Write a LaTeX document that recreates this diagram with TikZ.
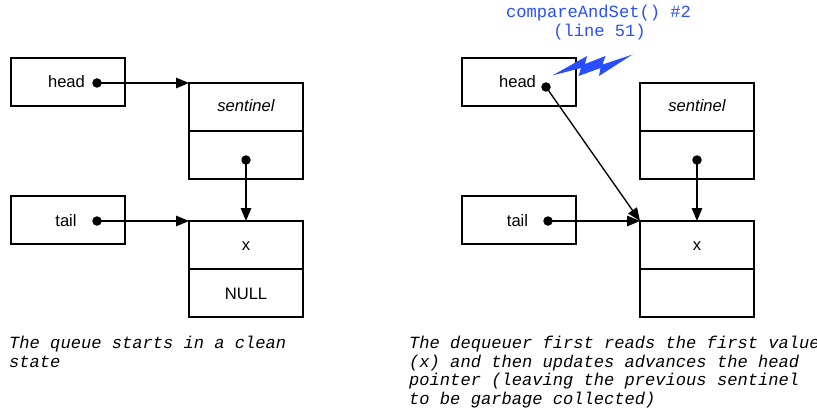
\documentclass[tikz,border=0pt]{standalone}
\usepackage{fontspec}
\setmainfont{Liberation Sans}
\newfontfamily\monofont{Liberation Mono}
\usetikzlibrary{arrows.meta}

\definecolor{casblue}{RGB}{40,78,255}

\tikzset{
  cell/.style={draw, line width=1.35pt, minimum width=114pt, minimum height=48pt,
               inner sep=0pt, outer sep=0pt},
  dot/.style={circle, fill, inner sep=0pt, minimum size=9.5pt},
  label/.style={anchor=base, inner sep=0pt, font=\fontsize{16.6}{18}\selectfont},
  ital/.style={label, font=\fontsize{16.6}{18}\selectfont\itshape},
  ptr/.style={line width=1.35pt, -{Triangle[length=13pt, width=10.5pt]}},
  caption/.style={anchor=base west, inner sep=0pt,
                  font=\monofont\fontsize{17.1}{18.5}\selectfont\itshape},
  note/.style={anchor=base, inner sep=0pt, text=casblue,
               font=\monofont\fontsize{17.1}{18.5}\selectfont}
}

\begin{document}
\begin{tikzpicture}[x=1pt, y=-1pt]
\useasboundingbox (0,0) rectangle (817,417);

% ---------- initial state ----------
\node[cell] (lhead) at (68,82) {};
\node[label] (lheadtxt) at (66.5,88) {head};
\node[dot] (lheaddot) at (97,83) {};

\node[cell] (ltail) at (68,220) {};
\node[label] (ltailtxt) at (66,226) {tail};
\node[dot] (ltaildot) at (97,221) {};

\node[cell] (lsent) at (246,107) {};
\node[cell] (lsentnext) at (246,155) {};
\node[ital] (lsenttxt) at (246,112) {sentinel};
\node[dot] (lsentdot) at (246,160) {};

\node[cell] (lx) at (246,245) {};
\node[cell] (lxnext) at (246,293) {};
\node[label] (lxtxt) at (246,250) {x};
\node[label] (lnull) at (246,299) {NULL};

\draw[ptr] (lheaddot.center) -- (lsent.north west);
\draw[ptr] (ltaildot.center) -- (lx.north west);
\draw[ptr] (lsentdot.center) -- (lx.north);

\node[caption] (lcap1) at (9,348.5) {The queue starts in a clean};
\node[caption] (lcap2) at (9,367) {state};

% ---------- after the dequeue ----------
\node[cell] (rhead) at (519,82) {};
\node[label] (rheadtxt) at (517.5,88) {head};
\node[dot] (rheaddot) at (546,87) {};

\node[cell] (rtail) at (519,220) {};
\node[label] (rtailtxt) at (517.5,226) {tail};
\node[dot] (rtaildot) at (548,221) {};

\node[cell] (rsent) at (697,107) {};
\node[cell] (rsentnext) at (697,155) {};
\node[ital] (rsenttxt) at (697,112) {sentinel};
\node[dot] (rsentdot) at (697,160) {};

\node[cell] (rx) at (697,245) {};
\node[cell] (rxnext) at (697,293) {};
\node[label] (rxtxt) at (697,250) {x};

\draw[ptr] (rheaddot.center) -- (rx.north west);
\draw[ptr] (rtaildot.center) -- (rx.north west);
\draw[ptr] (rsentdot.center) -- (rx.north);

% lightning bolt marking the CAS on head
\fill[casblue] (552.3,75.5) -- (587,56) -- (585,64) -- (605.5,56)
  -- (602.5,64.5) -- (632.5,54.5) -- (599,76) -- (600.5,68)
  -- (578.5,76) -- (581,68) -- cycle;

\node[note] (cas1) at (598.5,18) {compareAndSet() \#2};
\node[note] (cas2) at (599.5,37) {(line 51)};

\node[caption] (rcap1) at (409,348.5) {The dequeuer first reads the first value};
\node[caption] (rcap2) at (409,367) {(x) and then updates advances the head};
\node[caption] (rcap3) at (409,385.5) {pointer (leaving the previous sentinel};
\node[caption] (rcap4) at (409,404) {to be garbage collected)};
\end{tikzpicture}
\end{document}
